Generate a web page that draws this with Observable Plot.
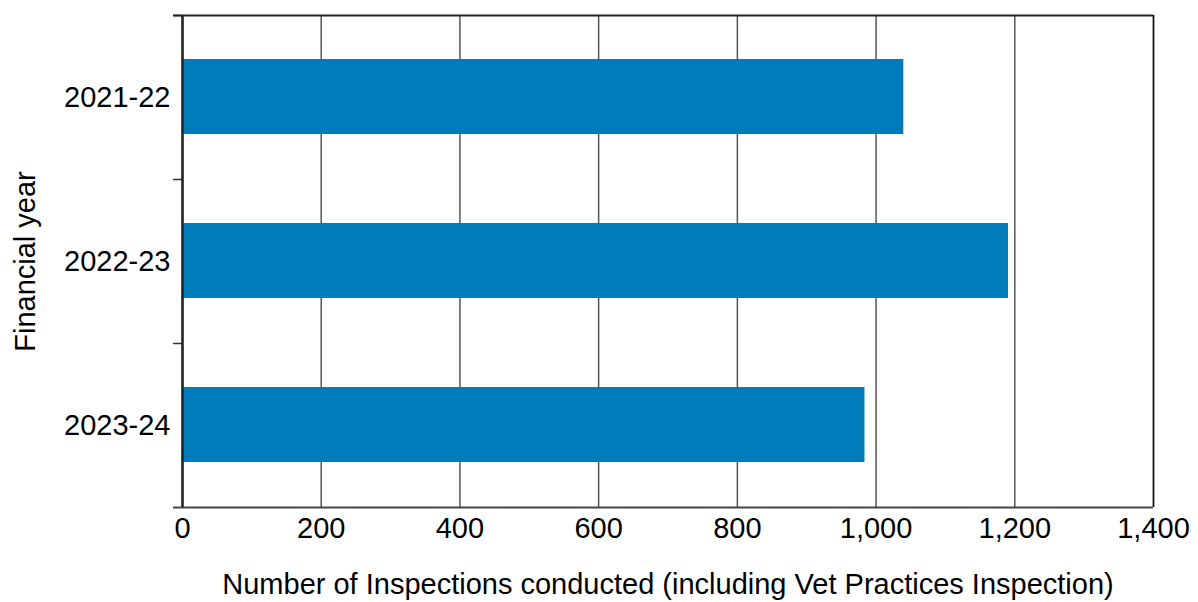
<!DOCTYPE html>
<html>
<head>
<meta charset="utf-8">
<script src="https://cdn.jsdelivr.net/npm/d3@7"></script>
<script src="https://cdn.jsdelivr.net/npm/@observablehq/plot@0.6"></script>
<style>
  html, body { margin: 0; padding: 0; background: #fff; }
</style>
</head>
<body>
<div id="chart"></div>
<script>
const years = ["2021-22", "2022-23", "2023-24"];
const inspections = [1040, 1191, 984];
const xTicks = [0, 200, 400, 600, 800, 1000, 1200, 1400];
const xTitle = "Number of Inspections conducted (including Vet Practices Inspection)";
const yTitle = "Financial year";

const data = years.map((y, i) => ({year: y, value: inspections[i]}));

const W = 1198, H = 602;
const mt = 15, mb = 95;
const band = (H - mt - mb) / years.length;

const chart = Plot.plot({
  width: W,
  height: H,
  marginLeft: 182,
  marginRight: 45,
  marginTop: mt,
  marginBottom: mb,
  style: {fontFamily: "'Liberation Sans', Arial, sans-serif", fontSize: "29px", color: "#000", background: "#fff"},
  x: {domain: [0, 1400]},
  y: {domain: years, padding: 0},
  marks: [
    Plot.gridX(xTicks, {stroke: "#555", strokeOpacity: 1, strokeWidth: 1.5}),
    Plot.barX(data, {y: "year", x: "value", fill: "#007cba", insetTop: 44, insetBottom: 45}),
    // category boundary ticks
    Plot.ruleY(years, {y: d => d, dy: -band / 2, x1: -13, x2: 0, stroke: "#333", strokeWidth: 1.5}),
    Plot.ruleY([years[0]], {y: d => d, dy: -band / 2, x1: -13, x2: 1400, stroke: "#222", strokeWidth: 2}),
    Plot.ruleY([years[years.length - 1]], {y: d => d, dy: band / 2, x1: -13, x2: 1400, stroke: "#444", strokeWidth: 2}),
    Plot.ruleX([0], {stroke: "#222", strokeWidth: 2.5}),
    Plot.ruleX([1400], {stroke: "#111", strokeWidth: 1.5}),
    Plot.axisX(xTicks, {tickSize: 0, tickPadding: 10, tickFormat: d3.format(","), label: xTitle, labelAnchor: "center", labelArrow: "none", labelOffset: 86, fontSize: 29}),
    Plot.axisY({tickSize: 0, tickPadding: 12, label: yTitle, labelAnchor: "center", labelArrow: "none", labelOffset: 168, fontSize: 29})
  ]
});

document.getElementById("chart").appendChild(chart);
</script>
</body>
</html>
